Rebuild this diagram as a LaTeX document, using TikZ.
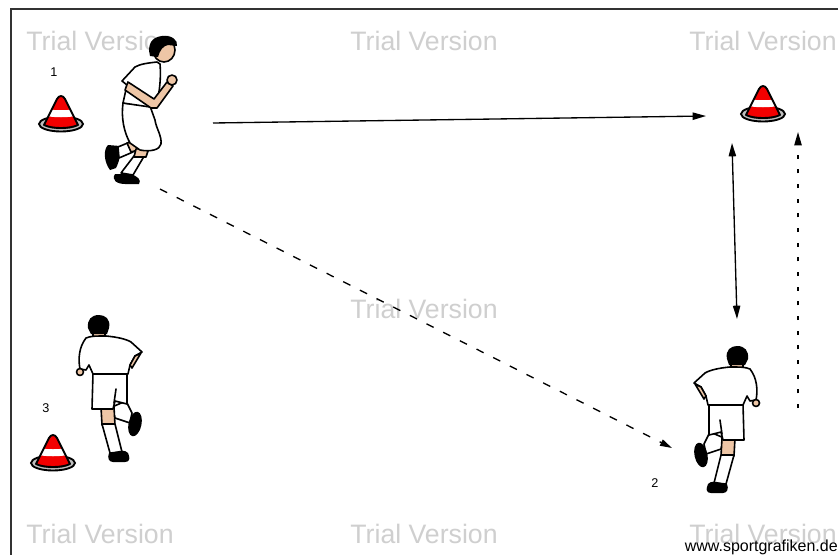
\documentclass[tikz,border=0pt]{standalone}
\usepackage{fontspec}
\setmainfont{Liberation Sans}
\usetikzlibrary{arrows.meta}
\definecolor{skin}{HTML}{EEC6A6}
\definecolor{conered}{HTML}{F20000}
\definecolor{wmark}{HTML}{CFCFCF}
\tikzset{
  figline/.style={line width=1.2pt, line join=round, line cap=round},
  watermark/.style={text=wmark, font=\fontsize{20}{20}\selectfont, anchor=center},
  numlabel/.style={font=\fontsize{9.5}{10}\selectfont, anchor=center},
  runpath/.style={line width=1pt, -{Triangle[length=10pt,width=5.5pt]}},
  passpath/.style={line width=1pt, dash pattern=on 6pt off 8pt, -{Triangle[length=9pt,width=5pt]}},
  dribblepath/.style={line width=1pt, dash pattern=on 3pt off 8pt, -{Triangle[length=10pt,width=5.5pt]}},
  cone/.pic={
    % base plate
    \filldraw[fill=black!25, line width=1.4pt] (0,0) circle[x radius=22, y radius=7.5];
    \draw[black!60, line width=0.6pt] (0,0) circle[x radius=17, y radius=4.8];
    % body
    \begin{scope}
      \path[clip] (-17,1) -- (-4,-25) .. controls (-2,-29) and (2,-29) .. (4,-25) -- (17,1)
        .. controls (9,5) and (-9,5) .. cycle;
      \fill[conered] (-20,-32) rectangle (20,6);
      \fill[white] (-20,-16) .. controls (-8,-13) and (8,-13) .. (20,-16) -- (20,-9)
        .. controls (8,-6) and (-8,-6) .. (-20,-9) -- cycle;
    \end{scope}
    \draw[line width=1.4pt, line join=round] (-17,1) -- (-4,-25) .. controls (-2,-29) and (2,-29) .. (4,-25) -- (17,1)
        .. controls (9,5) and (-9,5) .. cycle;
  },
  backrunner/.pic={
    \begin{scope}[figline]
    % raised leg and boot
    \filldraw[fill=white] (-27,76) -- (-13,82) -- (-16,93) -- (-31,98) -- (-33,88) -- cycle;
    \fill[rotate around={12:(-36,99)}] (-36,99) circle[x radius=6.5, y radius=12.5];
    % standing leg
    \filldraw[fill=skin] (-15,82) -- (-2,82) -- (-3,100) -- (-16,100) -- cycle;
    \filldraw[fill=white] (-16,99) -- (-3,99) -- (-11,128) -- (-23,127) -- cycle;
    \fill (-30,131) .. controls (-30,126) and (-24,125) .. (-20,126) -- (-10,128)
      .. controls (-8,133) and (-10,137) .. (-14,137) -- (-26,137) .. controls (-30,137) and (-31,134) .. cycle;
    % shorts
    \filldraw[fill=white] (-28,48) -- (6,48) -- (7,84) -- (-14,84) -- (-16,76) -- (-28,79) -- cycle;
    \draw (-17,64) -- (-15,78);
    % neck
    \filldraw[fill=skin] (-6,5) -- (6,5) -- (6,14) -- (-6,14) -- cycle;
    % shirt
    \filldraw[fill=white] (-7,11) .. controls (-18,12) and (-27,14) .. (-32,17) -- (-43,27) -- (-36,31)
      -- (-31,40) -- (-29,49) -- (6,49) -- (10,40) -- (13,45) -- (19,44)
      .. controls (21,34) and (20,22) .. (13,13) .. controls (8,11) and (4,11) .. cycle;
    % arm on the hip
    \filldraw[fill=skin] (-42,28) -- (-36,31) -- (-31,40) -- (-33,43) -- cycle;
    % hand
    \filldraw[fill=skin] (19,47) circle[radius=3.5];
    % hair
    \fill (-10,3) .. controls (-12,-6) and (-6,-10) .. (0,-10) .. controls (8,-10) and (12,-5) .. (11,3)
      -- (8,9) -- (-8,9) -- cycle;
    \end{scope}
  }
}
\begin{document}
\begin{tikzpicture}[x=0.75pt, y=-0.75pt]
\useasboundingbox[fill=white] (0,0) rectangle (838,554);

% watermark texts
\node[watermark] (wm1) at (100,41) {Trial Version};
\node[watermark] (wm2) at (424,41) {Trial Version};
\node[watermark] (wm3) at (763,41) {Trial Version};
\node[watermark] (wm4) at (424,309) {Trial Version};
\node[watermark] (wm5) at (100,534) {Trial Version};
\node[watermark] (wm6) at (424,534) {Trial Version};
\node[watermark] (wm7) at (763,534) {Trial Version};

% field border
\draw[black!80, line width=2pt] (11,556) -- (11,9) -- (840,9);

% cones
\pic (coneA) at (61,124) {cone};
\pic (coneB) at (763,114) {cone};
\pic (coneC) at (53,463) {cone};

% position numbers
\node[numlabel] (n1) at (54,72) {1};
\node[numlabel] (n3) at (46,408) {3};
\node[numlabel] (n2) at (655,483) {2};

% player 1, side view running right
\begin{scope}[figline]
  % back boot
  \fill (108,145) .. controls (103,150) and (104,162) .. (110,170) -- (116,168)
    .. controls (120,160) and (121,152) .. (120,146) -- cycle;
  % back leg
  \filldraw[fill=white] (118,147) -- (130,142) -- (133,152) -- (119,158) -- cycle;
  \filldraw[fill=skin] (127,143) -- (136,141) -- (138,150) -- (131,152) -- cycle;
  % front leg
  \filldraw[fill=white] (134,156) -- (146,153) -- (133,175) -- (121,173) -- cycle;
  \filldraw[fill=skin] (136,149) -- (149,148) -- (146,157) -- (134,157) -- cycle;
  % front boot
  \fill (115,174) .. controls (111,180) and (117,184) .. (125,184) -- (139,184)
    .. controls (142,180) and (137,176) .. (131,174) -- cycle;
  % long shorts
  \filldraw[fill=white] (123,103) .. controls (121,118) and (124,132) .. (130,143) -- (140,150)
    .. controls (150,152) and (160,150) .. (161,144) .. controls (162,136) and (156,128) .. (155,120)
    -- (150,106) -- cycle;
  % shirt
  \filldraw[fill=white] (157,62) .. controls (148,63) and (140,64) .. (135,67) -- (122,81) -- (127,85)
    -- (123,103) -- (150,107) -- (158,97) .. controls (160,88) and (161,75) .. (160,64) -- cycle;
  % arm
  \filldraw[fill=skin] (128,82) -- (154,99) -- (167,82) -- (173,86) -- (157,108) -- (151,108)
    -- (125,90) -- cycle;
  \filldraw[fill=skin] (172,80) circle[radius=5];
  % head
  \filldraw[fill=skin] (164,50) circle[x radius=11, y radius=12];
  \fill (150,56) .. controls (147,44) and (152,37) .. (162,36) .. controls (172,35) and (178,40) .. (177,46)
    -- (168,45) .. controls (163,46) and (160,50) .. (158,57) -- cycle;
\end{scope}

% players 2 and 3, seen from behind
\pic (player2) at (737,356) {backrunner};
\pic[xscale=-1] (player3) at (99,325) {backrunner};

% path end points
\coordinate (runA) at (213,123);
\coordinate (runB) at (706,116);
\coordinate (passA) at (160,189);
\coordinate (passB) at (672,448);
\coordinate (linkA) at (732,143);
\coordinate (linkB) at (737,319);
\coordinate (dribA) at (798,408);
\coordinate (dribB) at (798,132);

% movement paths
\draw[runpath] (runA) -- (runB);
\draw[passpath] (passA) -- (passB);
\draw[runpath, {Triangle[length=10pt,width=5.5pt]}-{Triangle[length=10pt,width=5.5pt]}] (linkA) -- (linkB);
\draw[dribblepath] (dribA) -- (dribB);

% credit line
\node[anchor=base east, font=\fontsize{12}{12}\selectfont, inner sep=0pt] (credit) at (838,551) {www.sportgrafiken.de};
\end{tikzpicture}
\end{document}
